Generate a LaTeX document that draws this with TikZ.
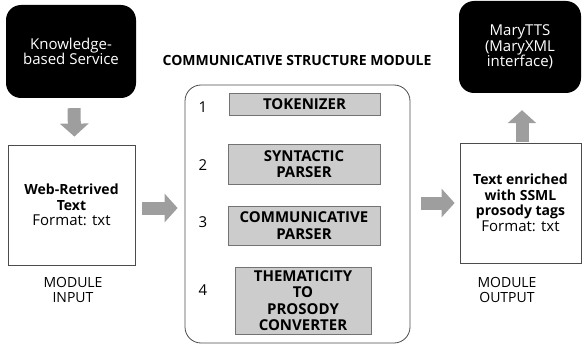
\documentclass[tikz,border=0pt]{standalone}
\usepackage{fontspec}
\setmainfont{Open Sans}
\usepackage{tikz}
\usetikzlibrary{arrows.meta}

\newcommand{\boldline}[1]{{\fontsize{14}{15}\selectfont\bfseries #1}}

\begin{document}
\begin{tikzpicture}[x=1pt, y=-1pt,
    font=\fontsize{15}{15.5}\selectfont,
    blackbox/.style={fill=black, text=white, rounded corners=15pt, align=center},
    whitebox/.style={draw=black!70, thick, fill=white, align=center},
    stepbox/.style={draw=black!55, fill=black!20, align=center, font=\fontsize{15}{16.5}\selectfont\bfseries},
    fatarrow/.style={draw=black!38, line width=13pt, -{Triangle[length=13pt, width=28pt]}}]

\useasboundingbox (0,0) rectangle (582,345);

\node [blackbox, minimum width=130pt, minimum height=93pt] (know) at (71,51.5) {Knowledge-\\based Service};
\node [blackbox, minimum width=122pt, minimum height=92pt] (mary) at (520,47) {MaryTTS\\(MaryXML\\interface)};

\node [whitebox, minimum width=127pt, minimum height=120pt] (web) at (71.5,205) {\boldline{Web-Retrived}\\\boldline{Text}\\Format: txt};
\node [whitebox, minimum width=121pt, minimum height=120pt] (out) at (520.5,203) {\boldline{Text enriched}\\\boldline{with SSML}\\\boldline{prosody tags}\\Format: txt};

\node [align=center, font=\fontsize{14}{15}\selectfont] (inlabel) at (73,290) {MODULE\\INPUT};
\node [align=center, font=\fontsize{14}{15}\selectfont] (outlabel) at (507,290) {MODULE\\OUTPUT};

\node [font=\fontsize{14}{15}\selectfont\bfseries] (title) at (297,60) {COMMUNICATIVE STRUCTURE MODULE};
\node [draw=black!70, thick, rounded corners=16pt, minimum width=225pt, minimum height=258pt] (mod) at (297.5,214) {};

\node [stepbox, minimum width=151pt, minimum height=22pt] (tok) at (304.5,104) {TOKENIZER};
\node [stepbox, minimum width=152pt, minimum height=40pt] (syn) at (304,164) {SYNTACTIC\\PARSER};
\node [stepbox, minimum width=152pt, minimum height=39pt] (com) at (304,225.5) {COMMUNICATIVE\\PARSER};
\node [stepbox, minimum width=136pt, minimum height=67pt, inner sep=1pt] (the) at (303,300.5) {THEMATICITY\\TO\\PROSODY\\CONVERTER};

\foreach \n/\y in {1/107, 2/165, 3/222, 4/290}
    \node (num\n) at (203,\y) {\n};

\draw [fatarrow, shorten <=10pt, shorten >=8pt] ([xshift=3pt]know.south) -- ([xshift=3pt]web.north);
\draw [fatarrow, shorten <=7pt, shorten >=7pt] ([yshift=-3pt]web.east) -- ([yshift=-3pt]web.east -| mod.west);
\draw [fatarrow, shorten <=11pt, shorten >=5pt] (out.west -| mod.east) -- (out.west);
\draw [fatarrow, shorten <=1pt, shorten >=17pt] ([xshift=1.5pt]out.north) -- ([xshift=1.5pt]out.north |- mary.south);

\end{tikzpicture}
\end{document}
